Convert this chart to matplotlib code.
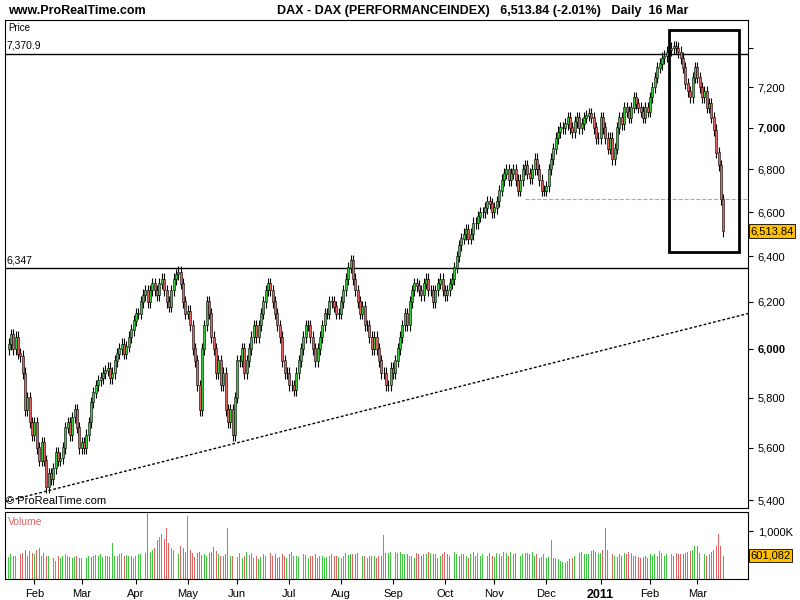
import matplotlib
matplotlib.use("Agg")
import matplotlib.pyplot as plt
import numpy as np
import pandas as pd
from matplotlib.patches import Rectangle

plt.rcParams['font.family'] = ['Liberation Sans', 'DejaVu Sans']

closes = [
 6020,6060,6000,
 6050,5980,5970,5900,5750,5800,5700,5650,5700,5600,
 5550,5620,5550,5450,5500,5480,5520,5580,5550,5560,5600,5680,5700,5650,5720,5750,5680,5600,5620,5600,
 5650,5700,5780,5820,5850,5870,5880,5900,5910,5920,5880,5900,5950,5980,6000,6020,5980,6010,6050,6080,6120,6150,6150,
 6200,6230,6250,6200,6250,6280,6250,6230,6280,6300,6250,6200,6180,6250,6300,6320,6330,6280,6200,6150,6160,
 6100,6000,5950,5850,5750,6000,6100,6200,6150,6050,6000,5900,5950,5850,5900,5750,5700,5750,5650,5800,5950,
 5950,6000,5900,5950,6000,6050,6100,6050,6100,6150,6200,6250,6280,6250,6200,6150,6100,6050,5950,5900,5900,5850,
 5850,5830,5900,5950,6000,6050,6100,6100,6050,6000,5950,6000,6050,6100,6150,6150,6200,6200,6180,6150,6150,6200,
 6250,6300,6350,6380,6300,6250,6200,6150,6180,6100,6100,6050,6000,6050,6000,5950,5900,5900,5850,5850,5920,5900,
 5950,6000,6050,6100,6150,6100,6200,6250,6280,6270,6250,6230,6280,6300,6250,6250,6200,6250,6280,6300,6250,6230,
 6250,6280,6300,6350,6400,6450,6480,6500,6520,6480,6500,6550,6550,6580,6600,6600,6620,6650,6640,6600,6620,
 6650,6700,6750,6780,6800,6750,6780,6800,6750,6700,6750,6800,6820,6780,6760,6800,6850,6800,6750,6700,6700,6720,
 6800,6850,6900,6950,6980,7000,7000,7020,7050,7000,6980,7030,7050,7000,7020,7050,7060,7070,7050,7000,6950,6950,
 7050,7000,6950,6900,6950,6850,6900,7000,7050,7020,7100,7080,7050,7100,7150,7120,7100,7080,7050,7100,7080,
 7150,7200,7250,7300,7320,7350,7360,7380,7390,7400,7410,7400,7380,7350,7300,7220,7180,7150,7250,7300,
 7250,7200,7150,7180,7100,7120,7050,6990,6880,6820,6660,6513.84,
]
volumes = [
 580,620,600,
 600,560,620,650,700,600,680,640,620,690,
 720,600,640,600,600,610,560,520,600,560,600,620,600,580,560,570,600,560,560,580,
 560,600,580,590,610,600,620,580,600,600,580,800,600,600,620,640,600,610,590,600,560,600,620,
 620,600,640,1350,660,700,720,850,900,950,880,1050,800,720,700,660,620,760,720,660,1250,
 700,650,580,640,660,610,620,600,650,660,740,680,620,600,600,620,1050,600,600,620,580,
 640,560,600,660,610,640,560,600,540,580,620,600,580,640,600,620,560,580,620,600,560,620,
 660,600,600,580,600,620,610,560,600,600,620,560,600,600,560,580,600,620,600,600,580,560,
 600,640,610,620,620,620,640,600,600,600,560,590,600,600,560,600,600,940,640,650,660,620,
 660,640,660,620,620,620,600,600,560,640,620,600,620,620,660,640,620,620,560,600,620,660,
 620,600,640,660,620,600,620,620,600,560,620,660,600,640,600,620,640,600,640,600,580,
 640,620,600,660,640,600,660,620,640,620,600,620,650,640,620,660,600,620,560,580,620,560,
 580,850,560,560,540,520,500,480,520,540,560,600,620,640,660,620,620,620,680,700,660,640,
 640,700,1050,700,660,620,600,580,620,600,640,620,660,640,600,600,580,560,580,600,560,
 620,600,620,600,680,640,600,620,680,620,600,640,620,620,620,640,660,680,700,760,
 760,640,620,620,600,620,660,700,760,950,760,601.082,
]

dates = pd.bdate_range(end='2011-03-16', periods=len(closes))
x = np.arange(len(closes))
c = np.array(closes, float)
o = np.concatenate([[6000.0], c[:-1]])
hi = np.maximum(o, c) * 1.004
lo = np.minimum(o, c) * 0.996

fig = plt.figure(figsize=(8, 6), dpi=100)
axp = fig.add_axes([5/800, 1-508/600, 743/800, 488/600])
axv = fig.add_axes([5/800, 1-579/600, 743/800, 67/600])

green = '#3fc63f'; red = '#e06363'
up = c >= o
cols = np.where(up, green, red)
axp.vlines(x, lo, hi, color='black', lw=0.8, zorder=2)
axp.bar(x, np.abs(c - o) + 2, bottom=np.minimum(o, c), width=0.85, color=cols,
        edgecolor='black', lw=0.4, zorder=3)
axp.set_yscale('log')
axp.set_ylim(5370, 7547)
xmax = len(closes) + 9.5
axp.set_xlim(-1.5, xmax)
axp.axhline(7370.9, color='black', lw=1)
axp.axhline(6347, color='black', lw=1)
axp.plot([-1, xmax], [5395, 6150], ls=(0, (2, 1.5)), color='black', lw=1)
axp.plot([219, xmax], [6660, 6660], ls='--', color='#aaaaaa', lw=0.8)
axp.add_patch(Rectangle((280, 6420), 29.5, 7495-6420, fill=False, lw=2, ec='black', zorder=5))

yt = [5400, 5600, 5800, 6000, 6200, 6400, 6600, 6800, 7000, 7200, 7400]
axp.yaxis.tick_right()
axp.set_yticks(yt)
axp.set_yticklabels([f'{v:,}' if v != 7400 else '' for v in yt], fontsize=8)
axp.yaxis.set_minor_locator(matplotlib.ticker.NullLocator())
for lab in axp.get_yticklabels():
    if lab.get_text() in ('6,000', '7,000'):
        lab.set_fontweight('bold')
axp.set_xticks([])
axp.text(0.004, 0.993, 'Price', transform=axp.transAxes, fontsize=7, va='top')
axp.text(0.002, 7370.9 * 1.002, '7,370.9', transform=axp.get_yaxis_transform(), fontsize=7.5, va='bottom')
axp.text(0.002, 6347 * 1.002, '6,347', transform=axp.get_yaxis_transform(), fontsize=7.5, va='bottom')
axp.text(0.002, 0.005, '© ProRealTime.com', transform=axp.transAxes, fontsize=8, va='bottom')
axp.text(1.003, 6513.84, '6,513.84', transform=axp.get_yaxis_transform(), fontsize=8, va='center',
         bbox=dict(boxstyle='square,pad=0.15', fc='#ffc000', ec='black', lw=0.6))

v = np.array(volumes, float)
axv.bar(x, v, width=0.4, color=cols, bottom=0)
axv.set_ylim(217, 1316)
axv.set_xlim(-1.5, xmax)
axv.yaxis.tick_right()
axv.set_yticks([1000])
axv.set_yticklabels(['1,000K'], fontsize=8)
axv.text(0.004, 0.93, 'Volume', transform=axv.transAxes, fontsize=7.5, va='top', color=red)
axv.text(1.003, 601.082, '601,082', transform=axv.get_yaxis_transform(), fontsize=8, va='center',
         bbox=dict(boxstyle='square,pad=0.15', fc='#ffc000', ec='black', lw=0.6))
mpos, mlab = [], []
for i in range(1, len(dates)):
    if dates[i].month != dates[i-1].month:
        mpos.append(i)
        mlab.append('2011' if dates[i].month == 1 else dates[i].strftime('%b'))
axv.set_xticks(mpos)
axv.set_xticklabels(mlab, fontsize=8)
for lab in axv.get_xticklabels():
    if lab.get_text() == '2011':
        lab.set_fontweight('bold'); lab.set_fontsize(9)

fig.text(8/800, 1-11/600, 'www.ProRealTime.com', fontsize=9, fontweight='bold', va='center')
fig.text(277/800, 1-11/600, 'DAX - DAX (PERFORMANCEINDEX)   6,513.84 (-2.01%)   Daily  16 Mar',
         fontsize=9, fontweight='bold', va='center')
fig.savefig('out.png', dpi=100)
